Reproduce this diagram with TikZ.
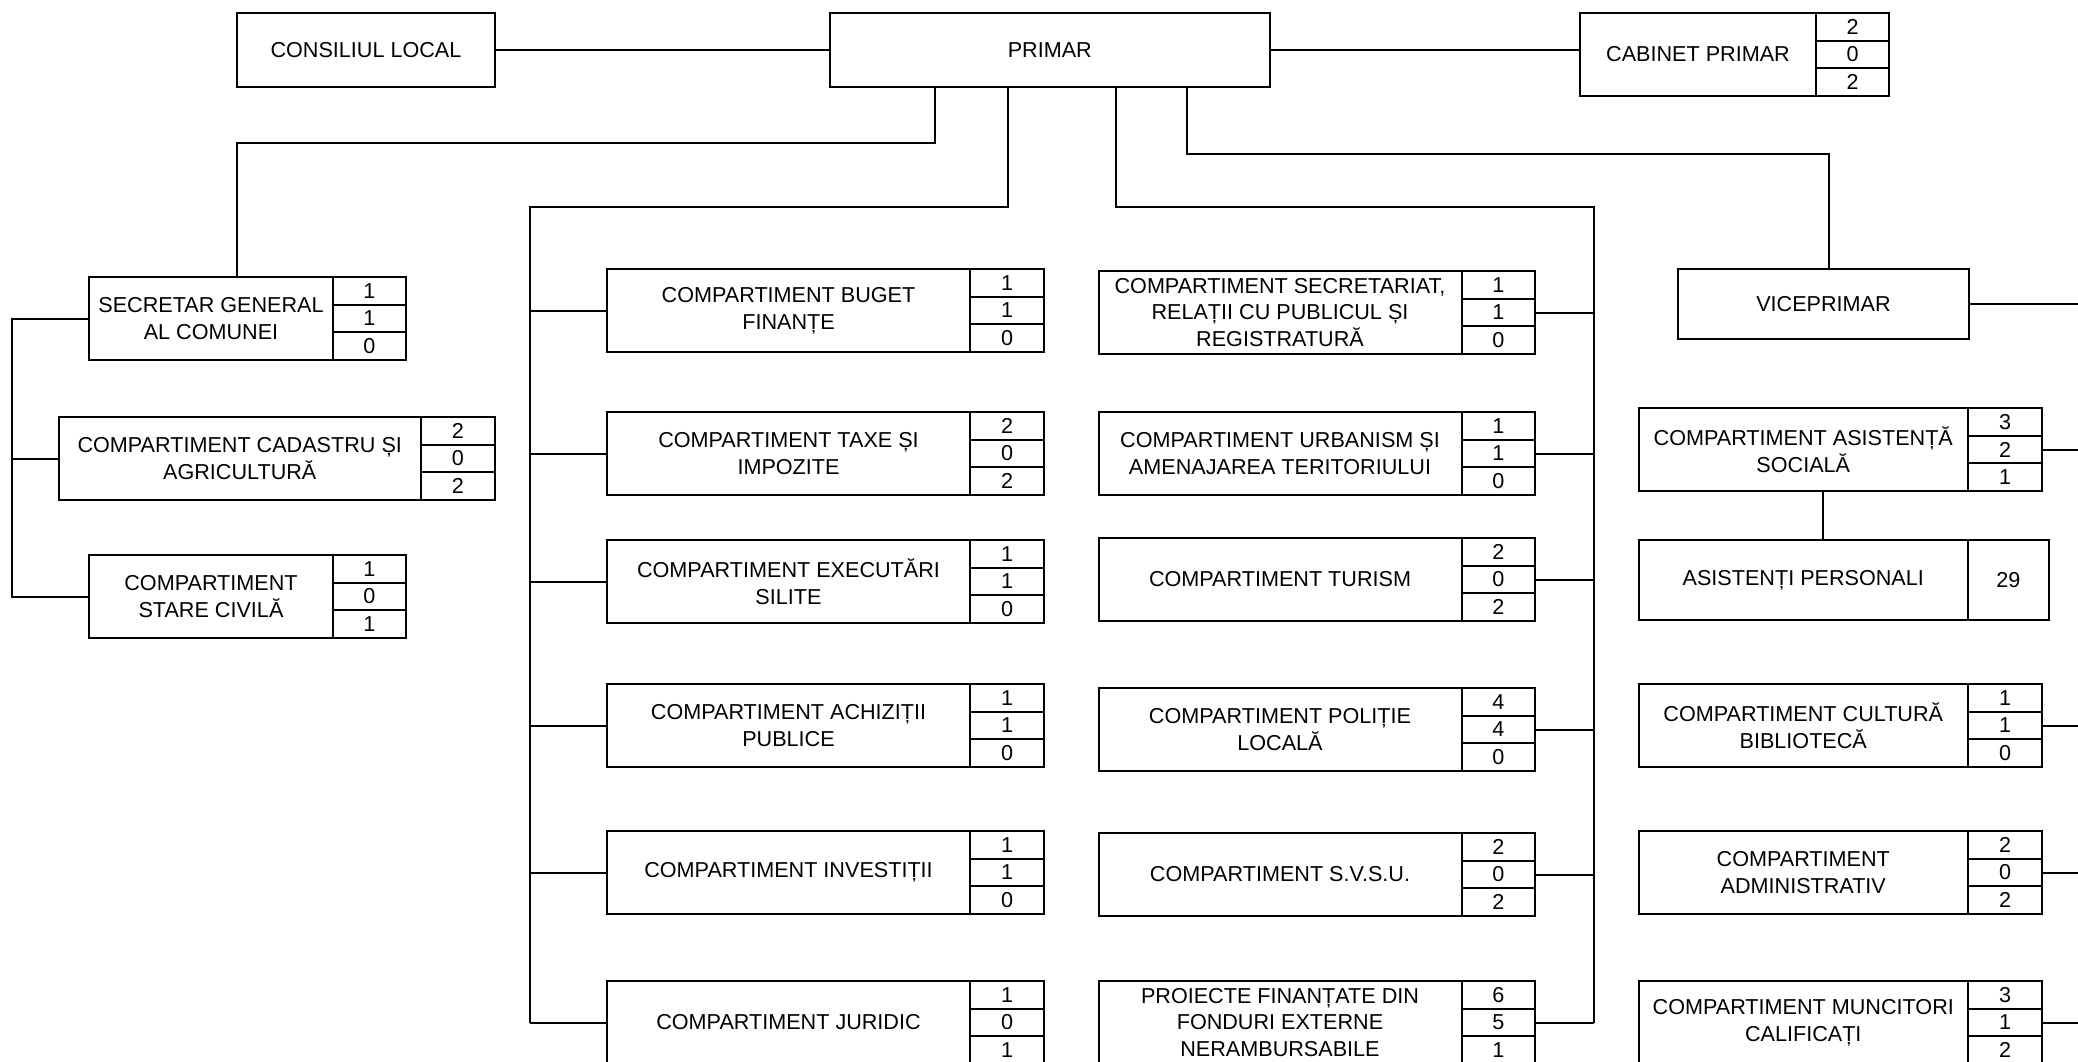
\documentclass[tikz,border=0pt]{standalone}
\usepackage{fontspec}
\setmainfont{Liberation Sans}
\tikzset{
  box/.style={draw, line width=1pt, inner sep=2pt, align=center, font=\fontsize{10.8}{13.3}\selectfont},
  numcell/.style={draw, line width=1pt, inner sep=0pt, minimum height=13.833pt, font=\fontsize{10.8}{13.3}\selectfont},
  conn/.style={line width=1pt},
}
% #1 name, #2 x-left, #3 x-divider, #4 x-right, #5 y-top, #6 text, #7-#9 numbers
\newcommand\orgunit[9]{%
  \node[box, minimum width={(#3-#2)*0.5pt}, minimum height=41.5pt] (#1) at ({(#2+#3)/2},{#5+41.5}) {#6};
  \node[numcell, minimum width={(#4-#3)*0.5pt}] (#1-a) at ({(#3+#4)/2},{#5+83/6}) {#7};
  \node[numcell, minimum width={(#4-#3)*0.5pt}] (#1-b) at ({(#3+#4)/2},{#5+83/2}) {#8};
  \node[numcell, minimum width={(#4-#3)*0.5pt}] (#1-c) at ({(#3+#4)/2},{#5+5*83/6}) {#9};
}
\begin{document}
\begin{tikzpicture}[x=0.5pt, y=-0.5pt]
\clip (0,0) rectangle (2078,1061);
\fill[white] (0,0) rectangle (2078,1061);

% top row
\node[box, minimum width={258*0.5pt}, minimum height=37pt] (cl) at (366,50) {CONSILIUL LOCAL};
\node[box, minimum width={440.5*0.5pt}, minimum height=37pt] (primar) at (1049.75,50) {PRIMAR};
\orgunit{cab}{1580}{1816}{1889}{13}{CABINET PRIMAR}{2}{0}{2}
\node[box, minimum width={291*0.5pt}, minimum height=35pt] (vice) at (1823.5,304) {VICEPRIMAR};

% left column
\orgunit{sg}{89}{333}{406}{277}{SECRETAR GENERAL\\AL COMUNEI}{1}{1}{0}
\orgunit{cad}{58.5}{421}{495}{417}{COMPARTIMENT CADASTRU ȘI\\AGRICULTURĂ}{2}{0}{2}
\orgunit{sc}{89}{333}{406}{555}{COMPARTIMENT\\STARE CIVILĂ}{1}{0}{1}

% middle-left column
\orgunit{buget}{607}{970}{1044}{269}{COMPARTIMENT BUGET\\FINANȚE}{1}{1}{0}
\orgunit{taxe}{607}{970}{1044}{412}{COMPARTIMENT TAXE ȘI\\IMPOZITE}{2}{0}{2}
\orgunit{exec}{607}{970}{1044}{540}{COMPARTIMENT EXECUTĂRI\\SILITE}{1}{1}{0}
\orgunit{achiz}{607}{970}{1044}{684}{COMPARTIMENT ACHIZIȚII\\PUBLICE}{1}{1}{0}
\orgunit{invest}{607}{970}{1044}{831}{COMPARTIMENT INVESTIȚII}{1}{1}{0}
\orgunit{jur}{607}{970}{1044}{981}{COMPARTIMENT JURIDIC}{1}{0}{1}

% middle-right column
\orgunit{secr}{1098.5}{1461.5}{1535}{271}{COMPARTIMENT SECRETARIAT,\\RELAȚII CU PUBLICUL ȘI\\REGISTRATURĂ}{1}{1}{0}
\orgunit{urb}{1098.5}{1461.5}{1535}{412}{COMPARTIMENT URBANISM ȘI\\AMENAJAREA TERITORIULUI}{1}{1}{0}
\orgunit{tur}{1098.5}{1461.5}{1535}{538}{COMPARTIMENT TURISM}{2}{0}{2}
\orgunit{pol}{1098.5}{1461.5}{1535}{688}{COMPARTIMENT POLIȚIE\\LOCALĂ}{4}{4}{0}
\orgunit{svsu}{1098.5}{1461.5}{1535}{833}{COMPARTIMENT S.V.S.U.}{2}{0}{2}
\orgunit{proi}{1098.5}{1461.5}{1535}{981}{PROIECTE FINANȚATE DIN\\FONDURI EXTERNE\\NERAMBURSABILE}{6}{5}{1}

% right column
\orgunit{asist}{1638.5}{1968}{2042}{408}{COMPARTIMENT ASISTENȚĂ\\SOCIALĂ}{3}{2}{1}
\node[box, minimum width={329.5*0.5pt}, minimum height=40pt] (ap) at (1803.25,580) {ASISTENȚI PERSONALI};
\node[numcell, minimum width={80.6*0.5pt}, minimum height=40pt] (ap-n) at (2008.3,580) {29};
\orgunit{cult}{1638.5}{1968}{2042}{684}{COMPARTIMENT CULTURĂ\\BIBLIOTECĂ}{1}{1}{0}
\orgunit{adm}{1638.5}{1968}{2042}{831}{COMPARTIMENT\\ADMINISTRATIV}{2}{0}{2}
\orgunit{munc}{1638.5}{1968}{2042}{981}{COMPARTIMENT MUNCITORI\\CALIFICAȚI}{3}{1}{2}

% junction coordinates
\coordinate (j1) at (935,143);   \coordinate (j1b) at (237,143);
\coordinate (j2) at (1008,207);  \coordinate (j2b) at (530,207);
\coordinate (j3) at (1116,207);  \coordinate (j3b) at (1594,207);
\coordinate (j4) at (1187,154);  \coordinate (j4b) at (1829,154);
\coordinate (j5) at (1823,0);
\coordinate (j6) at (12,0);
\coordinate (edge) at (2078,0);

% connectors
\draw[conn] (cl.east) -- (primar.west);
\draw[conn] (primar.east) -- (primar.east -| cab.west);
\draw[conn] (primar.south -| j1) -- (j1) -- (j1b) -- (sg.north -| j1b);
\draw[conn] (primar.south -| j2) -- (j2) -- (j2b) -- (jur.west -| j2b);
\foreach \n in {buget,taxe,exec,achiz,invest,jur}
  \draw[conn] (\n.west -| j2b) -- (\n.west);
\draw[conn] (primar.south -| j3) -- (j3) -- (j3b) -- (proi-b.east -| j3b);
\foreach \n in {secr,urb,tur,pol,svsu,proi}
  \draw[conn] (\n-b.east) -- (\n-b.east -| j3b);
\draw[conn] (primar.south -| j4) -- (j4) -- (j4b) -- (vice.north -| j4b);
\draw[conn] (vice.east) -- (vice.east -| edge);
\foreach \n in {asist,cult,adm,munc}
  \draw[conn] (\n-b.east) -- (\n-b.east -| edge);
\draw[conn] (asist.south -| j5) -- (ap.north -| j5);
\draw[conn] (sg.west) -- (sg.west -| j6) -- (sc.west -| j6) -- (sc.west);
\draw[conn] (cad.west) -- (cad.west -| j6);
\end{tikzpicture}
\end{document}
